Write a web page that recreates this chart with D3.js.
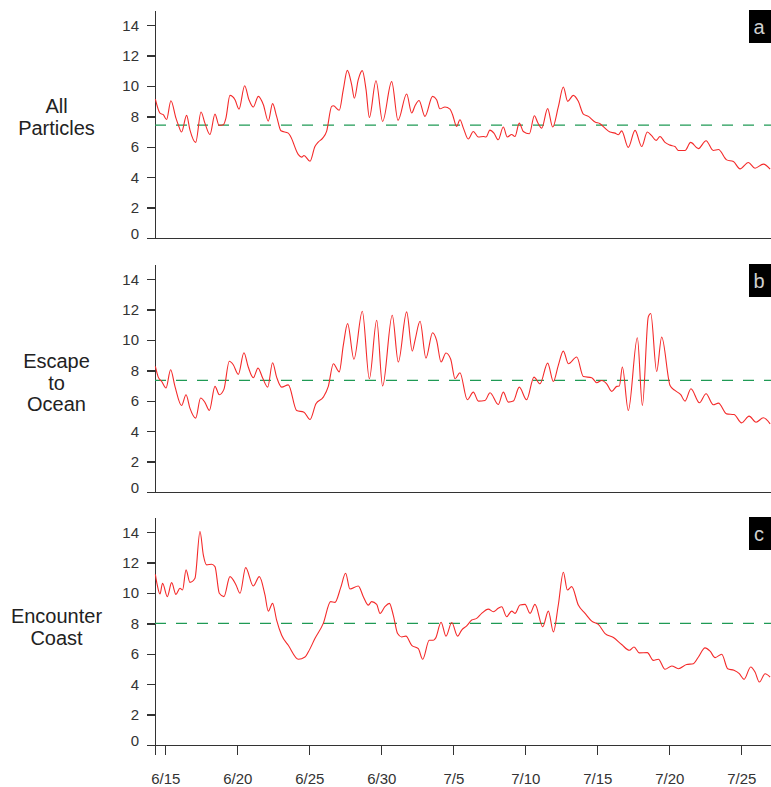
<!DOCTYPE html>
<meta charset="utf-8">
<style>
  body { margin: 0; background: #fff; }
  svg { display: block; font-family: "Liberation Sans", Arial, Helvetica, sans-serif; }
  .axis path, .axis line { stroke: #333; stroke-width: 1.3; shape-rendering: crispEdges; }
  .axis text { fill: #333; font-size: 15px; }
  .title { fill: #222; font-size: 20px; }
</style>
<body>
<script src="https://cdn.jsdelivr.net/npm/d3@7"></script>
<script>

// panel labels and the dashed mean levels
var panelTitles = [["All", "Particles"], ["Escape", "to", "Ocean"], ["Encounter", "Coast"]];
var panelLetters = ["a", "b", "c"];
var meanValues = [7.42, 7.35, 8.0];

// x ticks: days after 6/15
var dayTicks = [0, 5, 10, 15, 20, 25, 30, 35, 40];
var dayLabels = ["6/15", "6/20", "6/25", "6/30", "7/5", "7/10", "7/15", "7/20", "7/25"];
var yTicks = [0, 2, 4, 6, 8, 10, 12, 14];

// [day after 6/15, value]
var seriesA = [
  [-0.69,9.14],[-0.37,8.22],[-0.14,8.11],[0.09,7.8],[0.39,9.03],[0.74,7.89],[0.90,7.45],[1.13,6.97],
  [1.48,8.07],[1.71,7.12],[2.11,6.29],[2.48,8.29],[2.75,7.56],[3.10,6.81],[3.45,8.15],[3.73,7.41],
  [4.03,7.45],[4.21,7.89],[4.49,9.38],[4.84,9.1],[5.12,8.48],[5.51,10.02],[5.81,9.1],[6.11,8.62],
  [6.46,9.32],[6.81,8.77],[7.15,7.69],[7.45,8.84],[7.73,8.0],[8.03,7.05],[8.54,6.9],[8.70,6.68],
  [9.24,5.49],[9.47,5.32],[9.63,5.43],[10.05,5.05],[10.39,6.02],[10.62,6.31],[10.93,6.57],[11.20,7.01],
  [11.55,8.66],[11.67,8.7],[12.08,8.4],[12.36,9.76],[12.64,11.03],[12.94,10.09],[13.13,9.19],[13.40,10.42],
  [13.68,11.01],[13.94,9.76],[14.17,7.93],[14.63,10.35],[15.09,7.67],[15.72,10.29],[16.16,7.74],[16.76,9.47],
  [17.11,8.22],[17.34,8.7],[17.62,9.05],[18.03,8.0],[18.56,9.32],[18.84,9.1],[19.07,8.5],[19.42,8.62],
  [19.77,8.48],[19.95,8.11],[20.23,7.34],[20.46,7.78],[20.70,7.23],[21.04,6.51],[21.39,7.01],[21.74,6.64],
  [22.09,6.68],[22.27,6.64],[22.54,7.1],[22.82,6.9],[23.12,6.46],[23.47,7.3],[23.75,6.64],[24.05,6.81],
  [24.28,6.68],[24.58,7.56],[24.86,7.01],[25.28,6.86],[25.63,8.04],[25.86,7.6],[26.14,7.23],[26.55,8.51],
  [26.90,7.3],[27.29,8.62],[27.64,9.93],[27.94,8.99],[28.33,9.38],[28.68,8.99],[29.03,8.15],[29.38,8.0],
  [29.84,7.63],[30.19,7.52],[30.53,7.23],[30.88,6.97],[31.23,6.9],[31.46,6.79],[31.69,7.05],[32.15,5.96],
  [32.62,7.08],[33.08,6.02],[33.47,6.97],[33.77,6.73],[34.08,6.42],[34.35,6.68],[34.70,6.29],[35.05,6.11],
  [35.39,6.02],[35.63,5.76],[36.09,5.76],[36.48,6.29],[37.02,5.88],[37.55,6.4],[38.05,5.76],[38.41,5.82],
  [38.98,5.14],[39.45,5.03],[39.91,4.55],[40.49,4.97],[40.95,4.59],[41.53,4.86],[42.0,4.53]
];

var seriesB = [
  [-0.69,8.26],[-0.49,7.56],[-0.25,7.27],[0.05,6.84],[0.37,8.04],[0.67,6.95],[1.13,5.69],[1.44,6.4],
  [1.71,5.52],[2.11,4.86],[2.45,6.18],[2.75,5.9],[3.06,5.36],[3.45,6.95],[3.75,6.4],[4.07,6.75],
  [4.44,8.6],[4.72,8.37],[5.07,7.74],[5.46,9.16],[5.76,8.22],[6.11,7.52],[6.44,8.15],[6.76,7.5],
  [7.11,6.9],[7.45,8.5],[7.73,7.56],[8.08,6.9],[8.54,7.05],[9.12,5.36],[9.63,5.25],[10.05,4.77],
  [10.46,5.8],[10.97,6.24],[11.32,6.95],[11.67,8.44],[12.08,7.9],[12.36,9.65],[12.66,11.08],[13.10,8.73],
  [13.68,11.89],[14.17,7.45],[14.68,11.3],[15.09,6.97],[15.76,11.63],[16.18,8.55],[16.76,11.85],[17.15,9.27],
  [17.34,9.98],[17.69,11.23],[18.10,8.81],[18.56,10.48],[18.84,9.98],[19.15,8.55],[19.49,9.14],[19.82,8.73],
  [20.12,7.45],[20.46,7.85],[20.97,6.07],[21.39,6.57],[21.74,5.98],[22.20,6.02],[22.55,6.53],[23.12,5.76],
  [23.47,6.57],[23.82,5.91],[24.17,5.98],[24.58,6.9],[25.09,6.07],[25.60,7.56],[26.02,7.12],[26.55,8.48],
  [26.95,7.27],[27.29,8.33],[27.64,9.27],[27.99,8.44],[28.57,8.88],[29.03,7.6],[29.61,7.52],[29.96,7.19],
  [30.31,7.34],[30.65,7.12],[31.00,6.62],[31.35,6.95],[31.53,6.97],[31.74,8.22],[32.15,5.36],[32.78,10.15],
  [33.13,5.69],[33.54,11.52],[33.71,11.74],[34.12,7.93],[34.47,10.2],[35.05,7.01],[35.39,6.68],[35.79,6.4],
  [36.09,5.98],[36.50,6.79],[37.09,5.87],[37.55,6.46],[38.05,5.74],[38.41,5.85],[38.98,5.14],[39.49,5.1],
  [40.02,4.55],[40.54,4.99],[41.02,4.59],[41.53,4.88],[42.0,4.48]
];

var seriesC = [
  [-0.69,11.23],[-0.56,10.53],[-0.37,9.93],[-0.19,10.64],[0.14,9.76],[0.44,10.68],[0.74,9.91],[1.02,10.31],
  [1.20,10.2],[1.44,11.52],[1.71,10.7],[2.06,10.97],[2.41,14.05],[2.64,12.51],[2.87,11.85],[3.22,11.89],
  [3.45,11.74],[3.75,9.98],[4.07,9.76],[4.49,11.08],[4.91,10.53],[5.19,9.98],[5.58,11.67],[6.11,10.46],
  [6.53,11.08],[6.92,9.87],[7.15,8.81],[7.45,9.32],[7.73,8.22],[8.08,7.22],[8.54,6.56],[9.24,5.64],
  [9.70,5.79],[9.93,6.12],[10.39,7.0],[10.97,8.0],[11.48,9.43],[11.78,9.38],[12.18,10.35],[12.52,11.3],
  [12.82,10.26],[13.40,10.46],[13.75,9.76],[14.10,9.2],[14.33,9.43],[14.68,9.25],[14.91,8.66],[15.25,9.1],
  [15.56,9.32],[15.83,8.55],[16.13,7.33],[16.41,7.11],[16.71,7.16],[17.11,6.56],[17.57,6.34],[17.87,5.64],
  [18.33,6.89],[18.61,6.89],[18.78,7.05],[19.15,8.08],[19.49,7.16],[19.89,8.06],[20.30,7.16],[20.58,7.56],
  [20.93,7.84],[21.28,8.22],[21.62,8.33],[21.97,8.66],[22.43,8.94],[22.78,8.77],[23.12,8.99],[23.36,9.1],
  [23.70,8.44],[24.05,8.81],[24.28,8.66],[24.63,9.21],[24.98,9.25],[25.33,8.66],[25.67,9.25],[26.21,7.78],
  [26.60,8.81],[26.95,7.44],[27.29,9.21],[27.64,11.37],[27.92,10.2],[28.22,10.42],[28.68,9.21],[29.15,8.66],
  [29.61,8.15],[30.07,7.93],[30.54,7.33],[31.12,7.07],[31.69,6.61],[32.23,6.23],[32.55,6.45],[32.92,6.06],
  [33.47,6.08],[33.89,5.57],[34.24,5.64],[34.70,4.98],[35.17,5.2],[35.63,5.02],[36.20,5.29],[36.67,5.35],
  [37.02,5.79],[37.48,6.39],[37.83,6.17],[38.18,5.75],[38.64,5.97],[39.05,5.02],[39.49,4.91],[39.86,4.69],
  [40.19,4.32],[40.65,5.13],[40.95,4.8],[41.25,4.14],[41.65,4.69],[42.0,4.47]
];

var allSeries = [seriesA, seriesB, seriesC];

var width = 771, height = 787;
var margin = {left: 155, right: 0};
var panelTop = [10, 264, 517];
var panelH = 228;
var titleFirst = [103, 104, 106]; // baseline of first title line, from panel top

var svg = d3.select("body").append("svg")
  .attr("width", width)
  .attr("height", height);

// x: left axis sits at day -0.715, right edge of the page is day 42.06
var x = d3.scaleLinear()
  .domain([-0.715, 42.06])
  .range([margin.left, width - margin.right]);

var line = d3.line()
  .x(function(d) { return x(d[0]); })
  .curve(d3.curveMonotoneX);

allSeries.forEach(function(data, i) {
  var g = svg.append("g").attr("transform", "translate(0," + panelTop[i] + ")");

  var y = d3.scaleLinear().domain([0, 15]).range([panelH, 0]);
  line.y(function(d) { return y(d[1]); });

  // bottom axis
  var xAxis = d3.axisBottom(x).tickSizeOuter(0);
  if (i == 2) {
    xAxis.tickValues(dayTicks).tickSize(10).tickPadding(18)
      .tickFormat(function(d, k) { return dayLabels[k]; });
  } else {
    xAxis.tickValues([]);
  }
  var gx = g.append("g").attr("class", "axis")
    .attr("transform", "translate(0," + panelH + ")")
    .call(xAxis);
  gx.selectAll("text").style("font-size", "15px");

  // left axis
  var gy = g.append("g").attr("class", "axis")
    .attr("transform", "translate(" + margin.left + ",0)")
    .call(d3.axisLeft(y).tickValues(yTicks).tickSize(8).tickPadding(8).tickSizeOuter(0));
  gy.selectAll(".tick text").filter(function(d) { return d == 0; })
    .attr("y", -4);

  // mean line
  g.append("line")
    .attr("x1", x.range()[0]).attr("x2", x.range()[1])
    .attr("y1", y(meanValues[i])).attr("y2", y(meanValues[i]))
    .attr("stroke", "#1f9a55")
    .attr("stroke-width", 1.3)
    .attr("stroke-dasharray", "11,10");

  // the series
  g.append("path")
    .datum(data)
    .attr("fill", "none")
    .attr("stroke", "#f42a2a")
    .attr("stroke-width", 1.1)
    .attr("d", line);

  // letter box
  g.append("rect")
    .attr("x", width - 22).attr("y", 0)
    .attr("width", 22).attr("height", 33)
    .attr("fill", "#000");
  g.append("text")
    .attr("x", width - 12).attr("y", 24)
    .attr("text-anchor", "middle")
    .style("font-size", "20px")
    .style("fill", "#d0d0d0")
    .text(panelLetters[i]);

  // panel title
  var t = g.append("text")
    .attr("class", "title")
    .attr("text-anchor", "middle");
  panelTitles[i].forEach(function(s, k) {
    t.append("tspan")
      .attr("x", 56.5)
      .attr("y", titleFirst[i] + k * 21.5)
      .text(s);
  });
});

</script>
</body>
